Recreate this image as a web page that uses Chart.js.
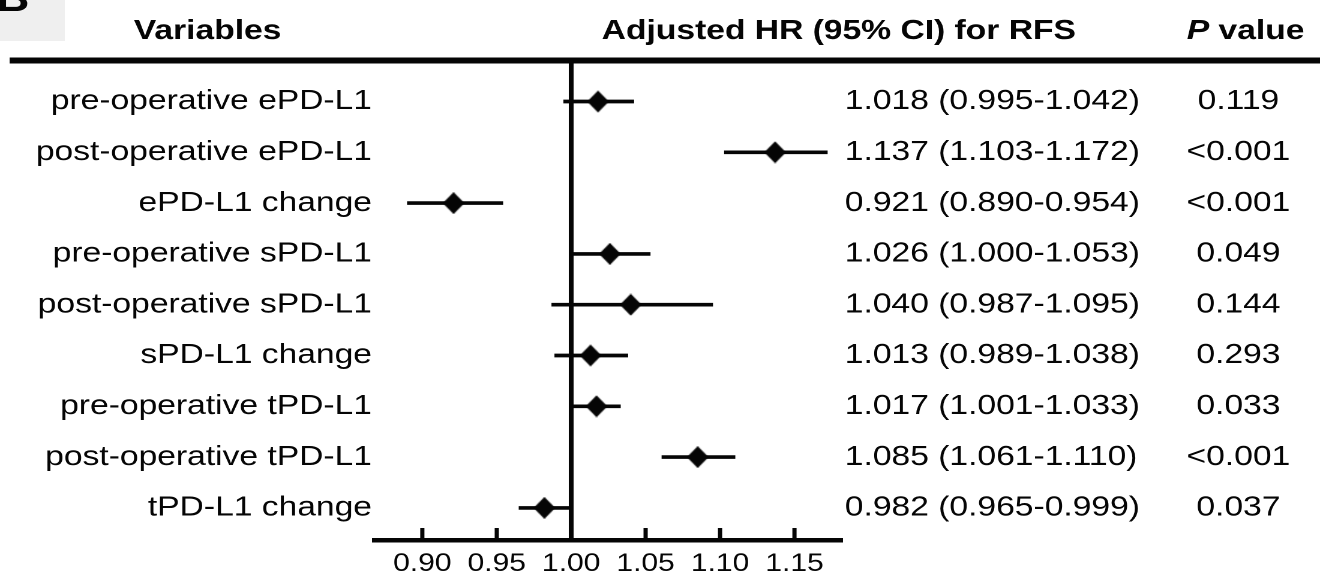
<!DOCTYPE html>
<html>
<head>
<meta charset="utf-8">
<title>Adjusted HR for RFS</title>
<script src="https://cdn.jsdelivr.net/npm/chart.js@4"></script>
<style>
  html, body { margin: 0; padding: 0; background: #fff; overflow: hidden; }
  /* the original figure is stretched sideways by ~1.2 */
  #wrap { width: 1100px; height: 585px; transform: scaleX(1.2); transform-origin: 0 0; }
</style>
</head>
<body>
<div id="wrap"><canvas id="forest" width="1100" height="585"></canvas></div>
<script>
const variables = ["pre-operative ePD-L1", "post-operative ePD-L1", "ePD-L1 change",
  "pre-operative sPD-L1", "post-operative sPD-L1", "sPD-L1 change",
  "pre-operative tPD-L1", "post-operative tPD-L1", "tPD-L1 change"];
const hr = [1.018, 1.137, 0.921, 1.026, 1.040, 1.013, 1.017, 1.085, 0.982];
const ciLow = [0.995, 1.103, 0.890, 1.000, 0.987, 0.989, 1.001, 1.061, 0.965];
const ciHigh = [1.042, 1.172, 0.954, 1.053, 1.095, 1.038, 1.033, 1.110, 0.999];
const pValues = ["0.119", "<0.001", "<0.001", "0.049", "0.144", "0.293", "0.033", "<0.001", "0.037"];
const xTicks = [0.90, 0.95, 1.00, 1.05, 1.10, 1.15];

const FONT = "'Liberation Sans', Arial, sans-serif";
const INK = '#050505';

// diamond marker, a bit taller than wide
const diamond = document.createElement('canvas');
diamond.width = 18;
diamond.height = 22;
const dc = diamond.getContext('2d');
dc.fillStyle = INK;
dc.beginPath();
dc.moveTo(9, 0); dc.lineTo(18, 11); dc.lineTo(9, 22); dc.lineTo(0, 11);
dc.closePath();
dc.fill();

const forestDecor = {
  id: 'forestDecor',
  beforeDatasetsDraw(chart) {
    const {ctx, chartArea, scales: {x}} = chart;
    ctx.save();
    ctx.strokeStyle = INK;
    // header rule
    ctx.lineWidth = 6;
    ctx.beginPath();
    ctx.moveTo(8, chartArea.top + 0.5);
    ctx.lineTo(chart.width, chartArea.top + 0.5);
    ctx.stroke();
    // line of no effect
    const x1 = x.getPixelForValue(1);
    ctx.lineWidth = 4;
    ctx.beginPath();
    ctx.moveTo(x1, chartArea.top);
    ctx.lineTo(x1, chartArea.bottom);
    ctx.stroke();
    // tick marks point up into the plot
    ctx.lineWidth = 3.5;
    xTicks.forEach(v => {
      const px = x.getPixelForValue(v);
      ctx.beginPath();
      ctx.moveTo(px, chartArea.bottom);
      ctx.lineTo(px, chartArea.bottom - 12);
      ctx.stroke();
    });
    ctx.restore();
  },
  afterDraw(chart) {
    const {ctx, scales: {y}} = chart;
    ctx.save();
    // panel letter
    ctx.fillStyle = '#efefef';
    ctx.fillRect(0, 0, 54, 41);
    ctx.fillStyle = INK;
    ctx.font = 'bold 38px ' + FONT;
    ctx.textAlign = 'left';
    ctx.textBaseline = 'alphabetic';
    ctx.fillText('B', -3, 11);

    // headers
    ctx.font = 'bold 28px ' + FONT;
    ctx.textAlign = 'center';
    ctx.fillText('Variables', 173, 39);
    ctx.fillText('Adjusted HR (95% CI) for RFS', 699, 39);
    ctx.textAlign = 'left';
    ctx.font = 'italic bold 28px ' + FONT;
    const pW = ctx.measureText('P').width;
    ctx.font = 'bold 28px ' + FONT;
    const vW = ctx.measureText(' value').width;
    const pStart = 1038 - (pW + vW) / 2;
    ctx.font = 'italic bold 28px ' + FONT;
    ctx.fillText('P', pStart, 39);
    ctx.font = 'bold 28px ' + FONT;
    ctx.fillText(' value', pStart + pW, 39);

    // HR (CI) and P columns
    ctx.font = '28px ' + FONT;
    ctx.textBaseline = 'middle';
    hr.forEach((v, i) => {
      const py = y.getPixelForValue(i);
      ctx.textAlign = 'left';
      ctx.fillText(v.toFixed(3) + ' (' + ciLow[i].toFixed(3) + '-' + ciHigh[i].toFixed(3) + ')', 704, py);
      ctx.textAlign = 'center';
      ctx.fillText(pValues[i], 1032, py);
    });
    ctx.restore();
  }
};

new Chart(document.getElementById('forest'), {
  type: 'bar',
  data: {
    datasets: [{
      type: 'bar',
      label: '95% CI',
      data: ciLow.map((lo, i) => ({x: [lo, ciHigh[i]], y: i})),
      backgroundColor: INK,
      borderWidth: 0,
      barThickness: 3,
      order: 2
    }, {
      type: 'scatter',
      label: 'HR',
      data: hr.map((v, i) => ({x: v, y: i})),
      pointStyle: diamond,
      pointRadius: 10,
      order: 1
    }]
  },
  options: {
    indexAxis: 'y',
    responsive: false,
    devicePixelRatio: 2,
    animation: false,
    layout: {padding: {top: 60, right: 398, left: 0, bottom: 0}},
    plugins: {legend: {display: false}, tooltip: {enabled: false}},
    scales: {
      x: {
        type: 'linear',
        position: 'bottom',
        offset: false,
        min: 0.8678,
        max: 1.1822,
        afterBuildTicks: s => { s.ticks = xTicks.map(v => ({value: v})); },
        afterFit: s => { s.height = 45; },
        grid: {display: false, drawTicks: false},
        border: {display: true, color: INK, width: 4.5},
        ticks: {
          padding: 9,
          color: INK,
          font: {family: FONT, size: 25},
          maxRotation: 0,
          autoSkip: false,
          callback: v => v.toFixed(2)
        }
      },
      y: {
        type: 'linear',
        position: 'left',
        offset: false,
        reverse: true,
        min: -0.817,
        max: 8.632,
        afterBuildTicks: s => { s.ticks = variables.map((_, i) => ({value: i})); },
        afterFit: s => { s.width = 312; },
        grid: {display: false, drawTicks: false},
        border: {display: false},
        ticks: {
          padding: 2,
          color: INK,
          font: {family: FONT, size: 28},
          autoSkip: false,
          callback: v => variables[v]
        }
      }
    }
  },
  plugins: [forestDecor]
});
</script>
</body>
</html>
